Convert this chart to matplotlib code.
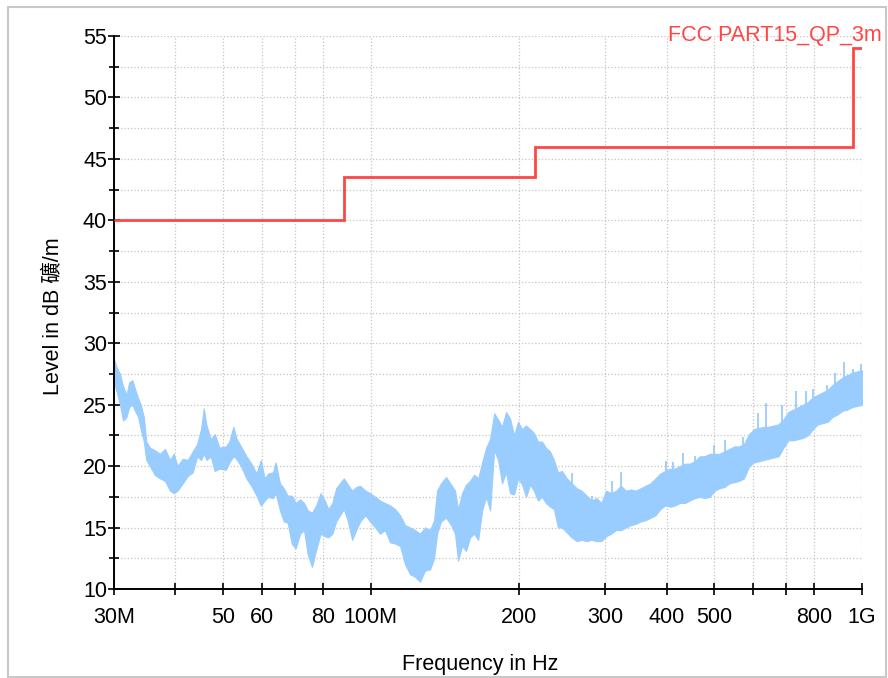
import numpy as np
import matplotlib
matplotlib.use('Agg')
import matplotlib.pyplot as plt
from matplotlib.patches import Rectangle

plt.rcParams['font.family'] = ['Liberation Sans', 'Noto Sans CJK SC', 'DejaVu Sans']

# limit line FCC Part 15 QP 3 m (MHz edges, dB level)
limit_edges = [30, 88, 216, 960, 1000]
limit_levels = [40, 43.5, 46, 54]

trace_mhz = [30, 30.4, 30.85, 31.3, 31.8, 32.2, 32.7, 33.1, 33.6, 34.0, 34.5, 34.9,
             35.5, 36.3, 37.2, 38.1, 39.0, 39.7, 40.4, 41.4, 42.4, 43.4, 44.3, 45.1,
             45.7, 46.3, 47.2, 48.1, 49.2, 50.7, 51.5, 52.5, 53.2, 54.4, 55.8, 57.1,
             58.5, 59.7, 60.8, 61.8, 63.2, 64.0, 65.3, 66.5, 67.7, 69.0, 70.3, 71.8,
             73.1, 74.4, 75.9, 77.4, 79.0, 80.6, 81.9, 83.5, 85.0, 86.5, 88.1, 89.8,
             91.6, 93.4, 95.1, 97.5, 99.6, 102.1, 104.4, 106.8, 109.4, 112.0, 114.7, 117.4,
             120.2, 123.0, 125.9, 128.9, 132.0, 134.5, 136.4, 138.9, 142.3, 145.7, 148.4, 150.5,
             153.4, 156.3, 159.2, 162.3, 165.4, 168.5, 171.7, 174.9, 178.3, 181.6, 185.0, 188.5,
             192.0, 195.7, 199.4, 203.2, 207.0, 211.0, 214.8, 218.9, 223.0, 227.2, 231.6, 235.9,
             240.4, 245.0, 250.6, 256.5, 262.5, 268.6, 275.0, 281.3, 288.0, 294.6, 301.4, 308.5,
             315.7, 323.0, 330.6, 338.3, 346.2, 354.3, 362.6, 371.0, 379.7, 388.5, 397.6, 406.9,
             416.4, 426.0, 436.0, 446.0, 457.0, 467.5, 478.0, 489.5, 501.0, 512.6, 524.6, 537.0,
             549.5, 562.0, 575.0, 589.0, 602.5, 616.7, 631.0, 645.6, 660.7, 676.0, 692.0, 708.0,
             724.5, 741.5, 758.6, 776.0, 794.0, 813.0, 832.0, 851.0, 871.0, 891.0, 912.0, 933.0,
             955.0, 1000.0]
trace_lo = [26.8, 26.0, 25.0, 23.7, 24.0, 24.8, 25.0, 24.5, 24.0, 23.0, 22.0, 20.5,
            20.0, 19.3, 19.0, 18.8, 18.0, 17.8, 18.0, 18.6, 19.2, 19.5, 20.8, 20.5,
            21.0, 20.5, 20.8, 19.6, 19.8, 19.7, 20.3, 20.8, 20.6, 20.0, 19.0, 18.4,
            17.6, 16.8, 17.2, 17.5, 17.4, 17.8, 16.4, 15.5, 15.4, 13.7, 13.3, 14.5,
            14.8, 12.8, 11.8, 13.2, 14.5, 14.3, 14.2, 14.5, 15.5, 16.0, 16.5, 15.5,
            14.0, 14.8, 15.5, 16.0, 15.5, 15.0, 14.5, 14.8, 13.8, 13.7, 13.5, 12.0,
            11.2, 11.0, 10.6, 11.5, 11.6, 12.5, 14.5, 15.5, 15.8, 15.2, 14.5, 12.3,
            13.5, 13.1, 14.2, 14.5, 14.0, 16.4, 17.5, 16.4, 21.3, 20.5, 18.6, 19.5,
            17.8, 17.7, 19.0, 18.5, 17.5, 18.5, 18.0, 17.2, 17.5, 17.0, 16.7, 16.5,
            15.0, 15.0, 14.6, 14.2, 13.9, 14.0, 13.9, 14.0, 13.9, 13.9, 14.3, 14.5,
            14.8, 14.8, 15.0, 15.2, 15.3, 15.5, 15.6, 15.8, 16.0, 16.5, 16.8, 16.7,
            16.8, 17.0, 17.0, 17.2, 17.4, 17.5, 17.4, 17.5, 18.0, 18.2, 18.3, 18.6,
            18.7, 18.8, 19.0, 20.0, 20.3, 20.4, 20.5, 20.6, 20.7, 20.8, 21.5, 22.1,
            22.1, 22.2, 22.3, 22.5, 23.0, 23.4, 23.5, 23.6, 24.0, 24.2, 24.5, 24.6,
            24.8, 25.0]
trace_hi = [28.7, 28.0, 27.5, 26.5, 25.8, 26.8, 27.0, 26.3, 25.5, 25.0, 24.0, 22.0,
            21.5, 21.3, 21.0, 21.4, 20.5, 21.0, 20.0, 20.6, 20.5, 21.2, 21.8, 23.0,
            24.7, 23.3, 22.2, 22.6, 21.5, 21.6, 22.0, 23.2, 22.3, 21.6, 20.8, 20.2,
            19.4, 20.5, 19.0, 19.4, 19.5, 20.3, 18.6, 18.2, 17.6, 17.6, 17.0, 17.3,
            17.0, 16.4, 16.2, 16.8, 17.8, 17.2, 16.5, 17.0, 18.2, 18.6, 19.0, 18.5,
            18.0, 18.3, 18.4, 18.0, 17.8, 17.5, 17.2, 17.0, 16.8, 16.5, 16.0, 15.2,
            15.0, 14.8, 14.5, 15.0, 14.8, 15.6, 18.0, 18.6, 19.1, 18.5, 18.0, 16.5,
            17.8, 18.5, 18.8, 19.3, 19.0, 20.3, 21.5, 22.2, 24.3, 23.8, 23.2, 24.4,
            23.9, 22.5, 23.6, 23.0, 23.3, 23.0, 22.7, 22.0, 22.0, 21.5, 21.2, 20.5,
            19.5, 19.6, 19.0, 18.6, 18.2, 18.0, 17.6, 17.2, 17.4, 17.0, 18.0, 17.8,
            18.0, 18.4, 18.0, 18.1, 18.0, 18.2, 18.4, 18.6, 19.0, 19.4, 19.6, 19.8,
            19.8, 20.0, 20.2, 20.2, 20.4, 20.8, 20.8, 21.0, 21.0, 21.0, 21.2, 21.4,
            21.6, 21.6, 21.8, 22.6, 23.0, 23.1, 23.2, 23.2, 23.3, 23.4, 23.8, 24.4,
            24.6, 24.8, 25.0, 25.2, 25.6, 25.8, 26.0, 26.2, 26.6, 26.9, 27.2, 27.4,
            27.6, 27.8]

# single tall peaks sticking out of the band (MHz, from dB, to dB)
spike_mhz = [256.8, 282, 309.8, 323, 399, 412, 432, 457, 500, 526, 572, 614,
             638, 687, 734, 769, 795, 849, 881, 919, 959, 996]
spike_from = [18.2, 16.8, 17.6, 17.8, 19.2, 19.6, 20.0, 20.2, 20.6, 21.0, 21.4, 22.6,
              23.0, 23.4, 24.4, 24.8, 25.2, 25.8, 26.2, 26.8, 27.0, 27.2]
spike_to = [19.4, 17.6, 18.8, 19.5, 20.4, 20.3, 21.1, 20.8, 21.7, 22.1, 22.4, 24.3,
            25.1, 25.0, 26.1, 26.1, 26.3, 26.6, 27.6, 28.5, 27.9, 28.3]

x_ticks = [30, 40, 50, 60, 70, 80, 100, 200, 300, 400, 500, 600, 700, 800, 1000]
x_labels = ['30M', '', '50', '60', '', '80', '100M', '200', '300', '400', '500',
            '', '', '800', '1G']

BLUE = '#99ccff'
RED = '#ff4646'
FS = 15.5

fig = plt.figure(figsize=(8.88, 6.78), dpi=100)
ax = fig.add_axes([114 / 888, 1 - 589 / 678, 748 / 888, 553 / 678])

ax.fill_between(trace_mhz, trace_lo, trace_hi, color=BLUE, lw=0.8, zorder=2)
ax.vlines(spike_mhz, spike_from, spike_to, color=BLUE, lw=1.3, zorder=2)
ax.stairs(limit_levels, limit_edges, baseline=None, color=RED, lw=2, zorder=3)

ax.set_xscale('log')
ax.set_xlim(30, 1000)
ax.set_ylim(10, 55)
ax.set_xticks(x_ticks)
ax.set_xticklabels(x_labels)
ax.xaxis.set_minor_locator(matplotlib.ticker.NullLocator())
ax.set_yticks(np.arange(10, 56, 5))
ax.set_yticks(np.arange(12.5, 55, 5), minor=True)

ax.grid(True, which='both', color='#c4c4c4', ls=':', lw=0.9, zorder=0)
for s in ['top', 'right']:
    ax.spines[s].set_visible(False)
for s in ['left', 'bottom']:
    ax.spines[s].set_linewidth(1.4)
ax.tick_params(axis='both', which='major', direction='inout', length=8, width=1.2,
               labelsize=FS)
ax.tick_params(axis='y', which='minor', direction='inout', length=7, width=1.2)
ax.tick_params(axis='y', pad=1)
ax.tick_params(axis='x', pad=9)

ax.set_ylabel('Level in dB 礦/m', fontsize=FS)
ax.yaxis.set_label_coords(-0.067, 0.494)
ax.set_xlabel('Frequency in Hz', fontsize=FS)
ax.xaxis.set_label_coords(0.489, -0.117)

fig.text(882 / 888, 1 - 35 / 678, 'FCC PART15_QP_3m', color=RED, fontsize=FS,
         ha='right', va='center')

fig.patches.append(Rectangle((8 / 888, 1 / 678), 878 / 888, 670 / 678,
                             transform=fig.transFigure, fill=False,
                             edgecolor='#c8c8c8', lw=1.5))

fig.savefig('out.png', dpi=100, facecolor='white')
